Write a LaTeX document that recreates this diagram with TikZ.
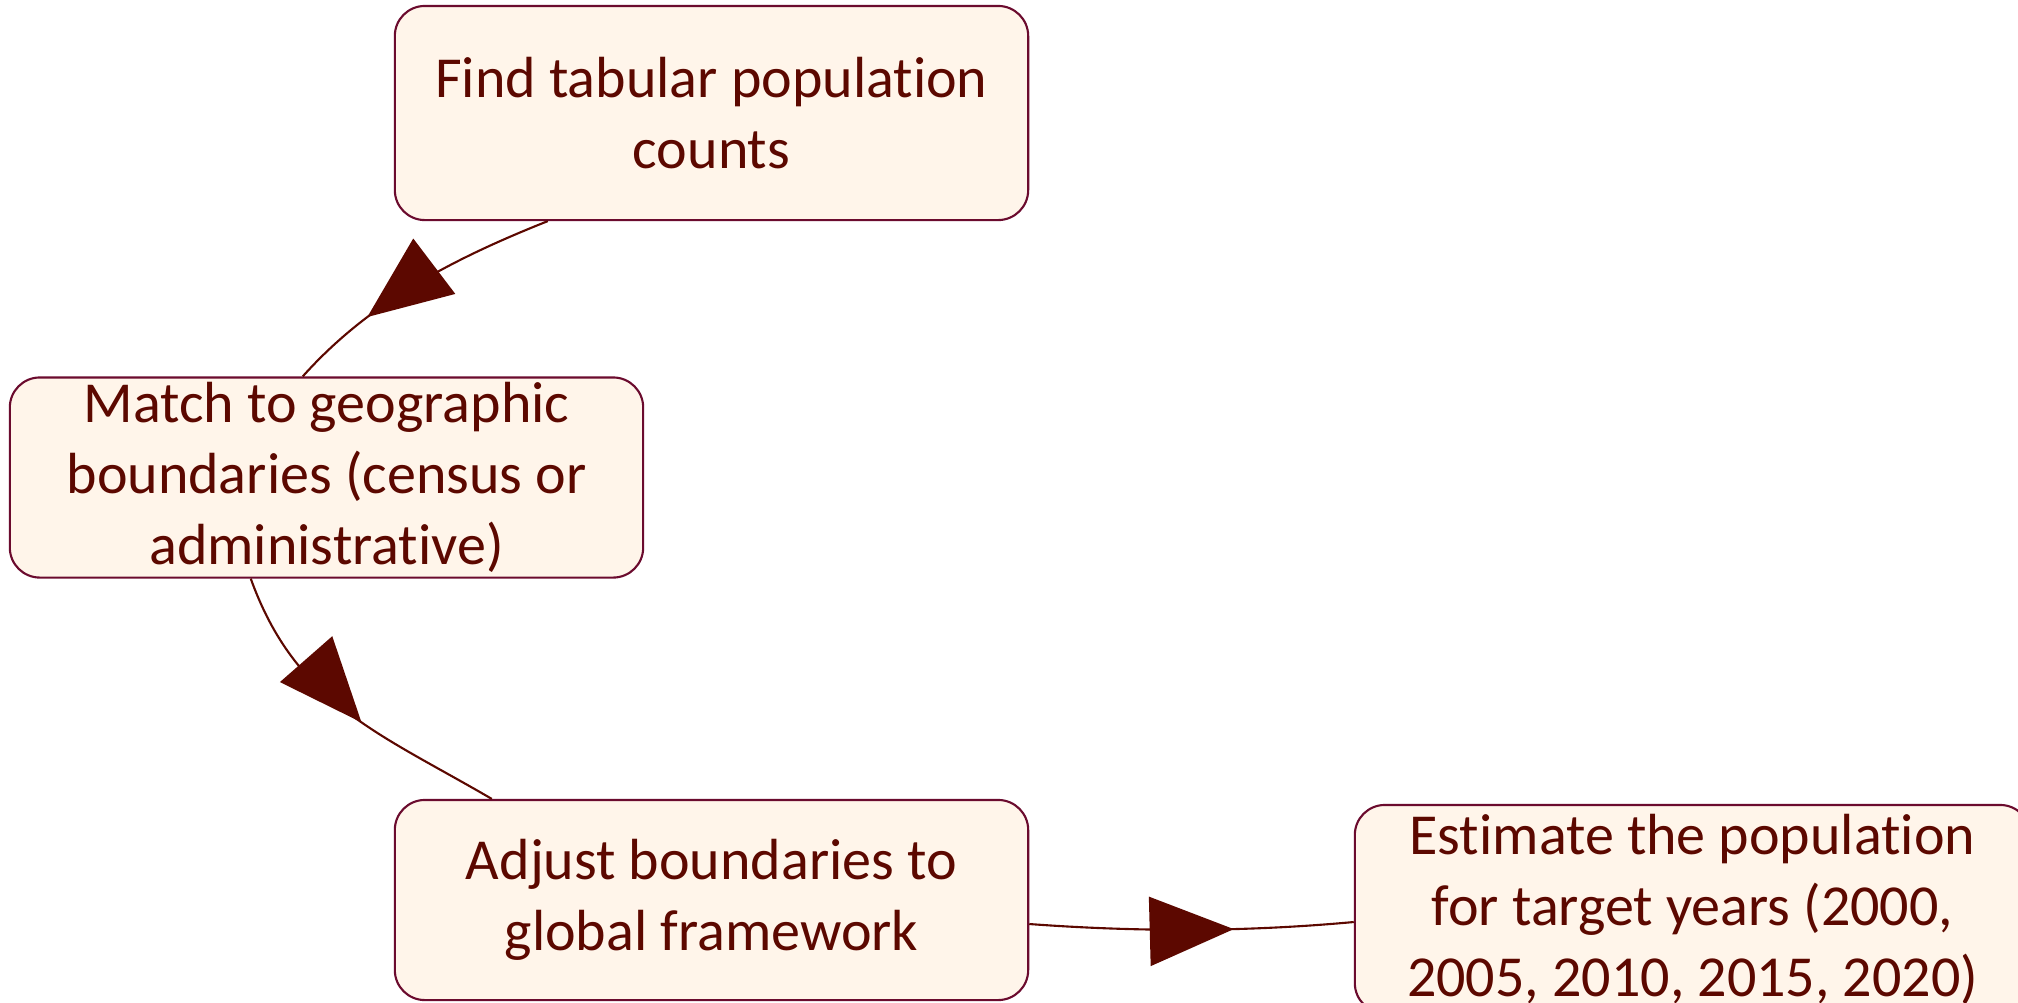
\documentclass[tikz,border=0pt]{standalone}
\usepackage{fontspec}
\setmainfont{Carlito}[Ligatures=NoCommon]
\usetikzlibrary{arrows.meta,calc,decorations.markings}

\definecolor{boxfill}{HTML}{FFF5EA}
\definecolor{boxline}{HTML}{6B0B2E}
\definecolor{txtred}{HTML}{5C0800}

\tikzset{
    stepbox/.style={draw=boxline, fill=boxfill, line width=0.6pt, rounded corners=0.3cm,
        minimum width=6.33cm, minimum height=2cm, inner sep=0pt, align=center,
        text=txtred, font=\fontsize{16.5}{20.2}\selectfont},
    flow/.style={draw=txtred, line width=0.6pt},
    % position along the edge, extra turn of the head
    midarrow/.style 2 args={postaction={decorate}, decoration={markings,
        mark=at position #1 with {\pgftransformrotate{#2}\arrow[txtred]{Triangle[length=8.4mm,width=6.9mm]}}}}
}

\begin{document}
\begin{tikzpicture}[x=0.01cm, y=-0.01cm]
    \path[use as bounding box, clip] (0,0) rectangle (2018,1002);

    \node[stepbox, minimum height=2.14cm] (find) at (711.5,113) {Find tabular population\\counts};
    \node[stepbox] (match) at (326.5,477.5) {Match to geographic\\boundaries (census or\\administrative)};
    \node[stepbox] (adjust) at (711.5,900) {Adjust boundaries to\\global framework};
    \node[stepbox, minimum width=6.75cm, minimum height=2.08cm] (estimate) at (1692.5,909) {Estimate the population\\for target years (2000,\\2005, 2010, 2015, 2020)};

    \draw[flow, midarrow={0.7}{0}] ($(find.south west)+(154,0)$) .. controls +(-93,37) and +(67,-75) .. ($(match.north west)+(294,0)$);
    \draw[flow, midarrow={0.55}{-14}] ($(match.south west)+(242,0)$) .. controls +(45,125) and +(-113,-66) .. ($(adjust.north west)+(98,0)$);
    \draw[flow, midarrow={0.63}{0}] ($(adjust.east)+(0,24)$) .. controls +(109,8) and +(-109,10) .. ($(estimate.west)+(0,13)$); % slight sag
\end{tikzpicture}
\end{document}
